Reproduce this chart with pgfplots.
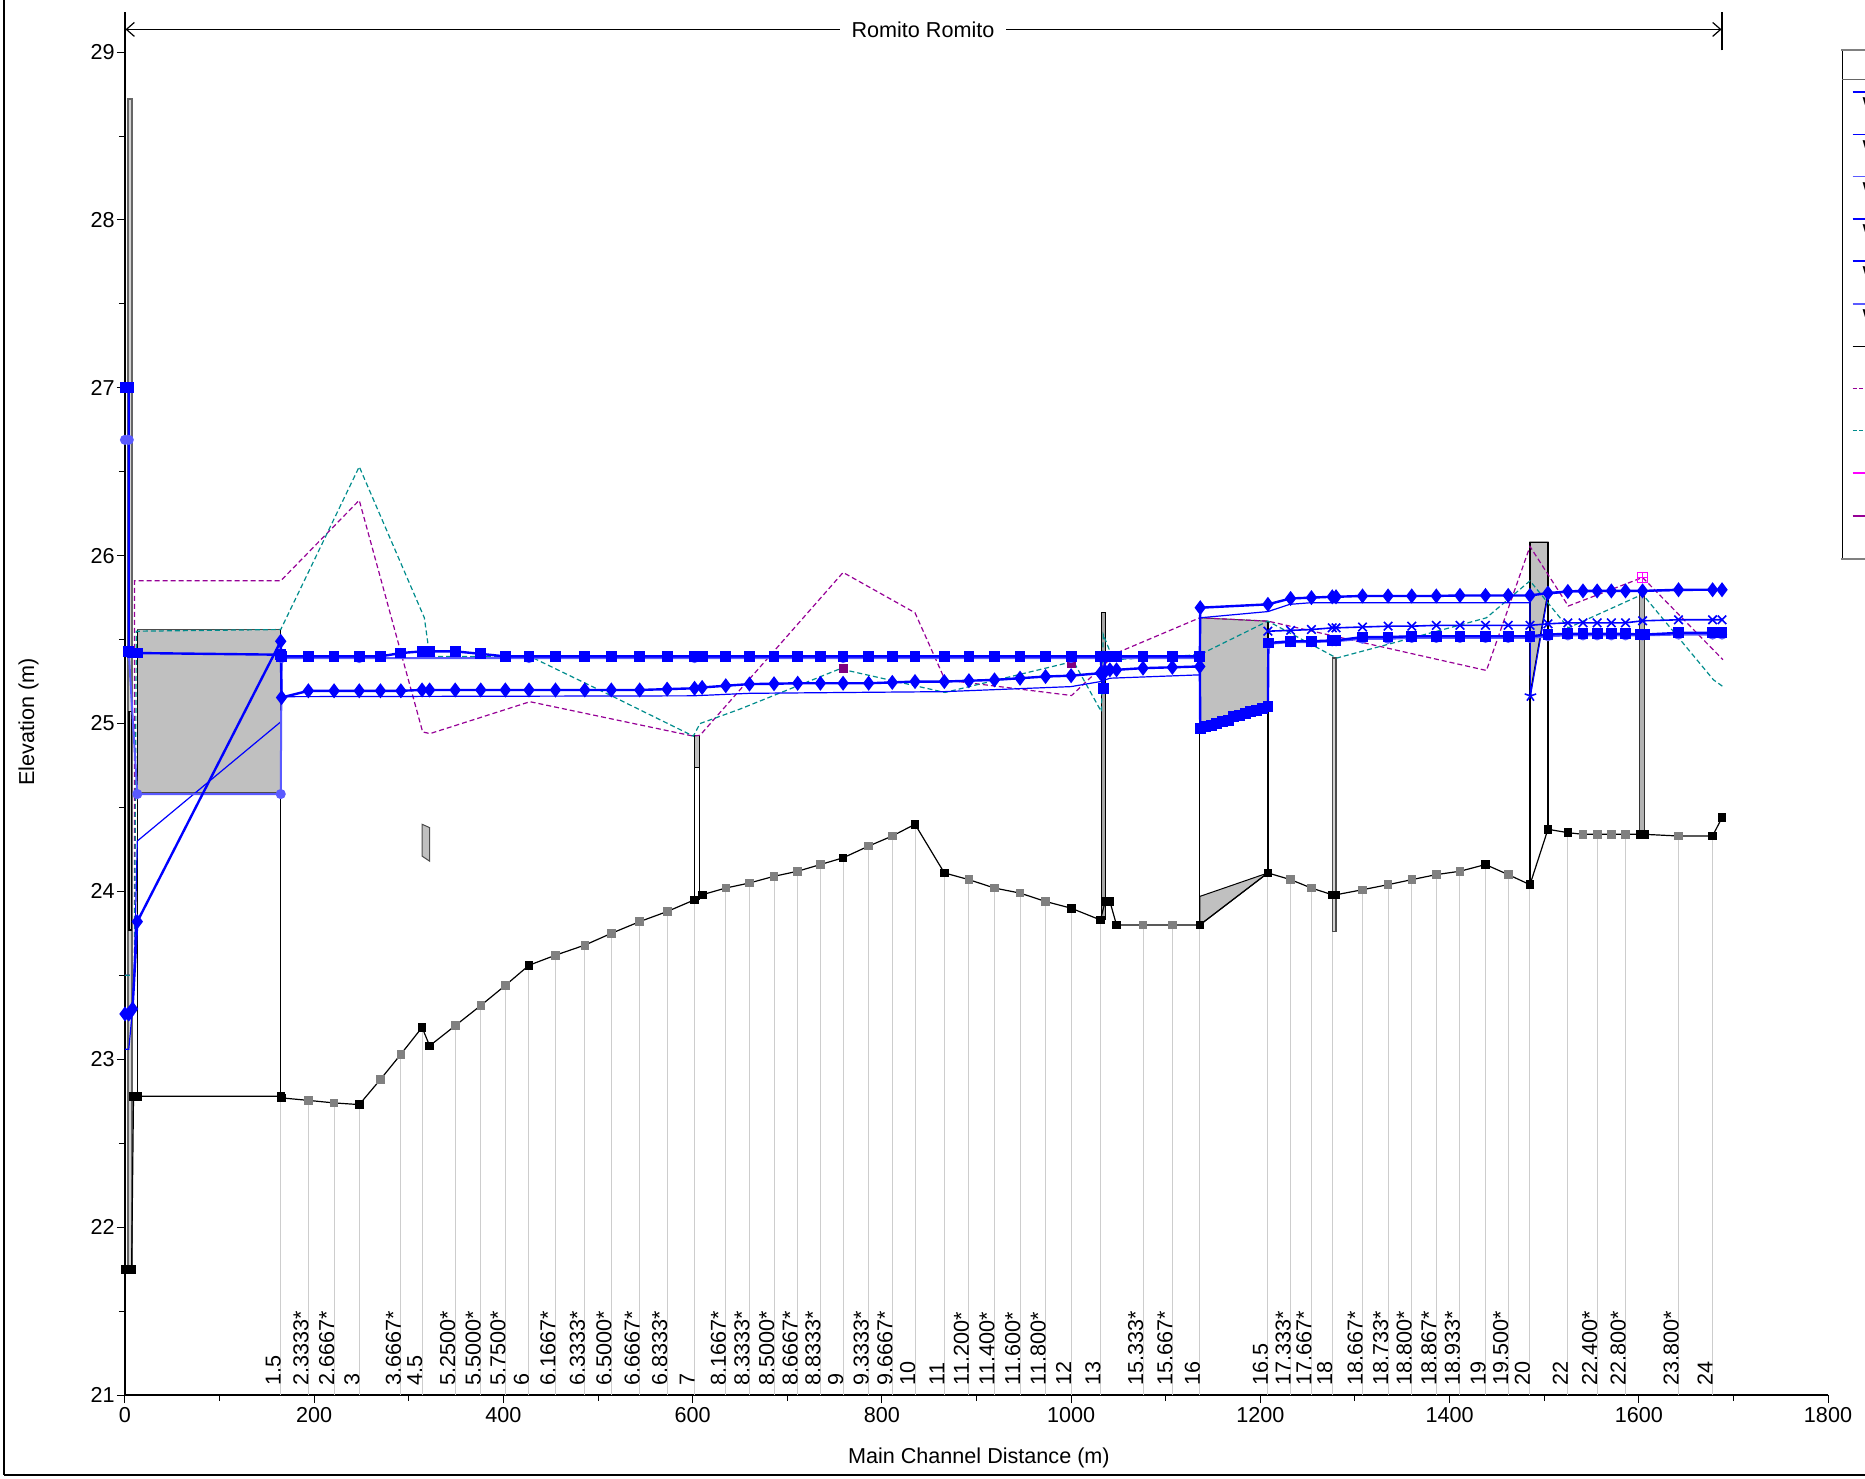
\documentclass[border=0pt]{standalone}
\usepackage{fontspec}
\setmainfont{Liberation Sans}
\usepackage{pgfplots}
\usepackage{pgfplotstable}
\pgfplotsset{compat=1.18}
\usetikzlibrary{arrows.meta}
\definecolor{wsblue}{RGB}{0,0,255}
\definecolor{wslight}{RGB}{90,90,255}
\definecolor{egpurple}{RGB}{150,0,150}
\definecolor{rteal}{RGB}{0,140,140}
\definecolor{mag}{RGB}{255,0,255}
\definecolor{structgray}{RGB}{192,192,192}
\definecolor{combgray}{RGB}{205,205,205}
\definecolor{gndgray}{RGB}{128,128,128}
\newcommand{\fs}{\fontsize{10.8}{13}\selectfont}

\pgfplotstableread{
x y c
0 21.75 b
4 21.75 b
7 21.75 b
9 22.78 b
13 22.78 b
164.6 22.78 b
165.5 22.77 b
193.8 22.755 g
221 22.74 g
247.6 22.73 b
270 22.88 g
291.6 23.03 g
314 23.19 b
322 23.08 b
349 23.20 g
376 23.32 g
402 23.44 g
427 23.56 b
455 23.62 g
486 23.68 g
514 23.75 g
544 23.82 g
573 23.88 g
602 23.95 b
610 23.98 b
635 24.02 g
660 24.05 g
686 24.09 g
711 24.12 g
735 24.16 g
759 24.20 b
786 24.27 g
811 24.33 g
835 24.40 b
866 24.11 b
892 24.07 g
919 24.02 g
946 23.99 g
973 23.94 g
1000 23.90 b
1031 23.83 b
1036 23.94 b
1041 23.94 b
1048 23.80 b
1076 23.80 g
1107 23.80 g
1136 23.80 b
1208 24.11 b
1232 24.07 g
1254 24.02 g
1276 23.98 b
1280 23.98 b
1308 24.01 g
1335 24.04 g
1360 24.07 g
1386 24.10 g
1411 24.12 g
1438 24.16 b
1462 24.10 g
1485 24.04 b
1504 24.37 b
1525 24.35 b
1541 24.34 g
1556 24.34 g
1571 24.34 g
1586 24.34 g
1602 24.34 b
1606 24.34 b
1642 24.33 g
1678 24.33 b
1688 24.44 b
}\gnd

\pgfplotstableread{
x y lab
164.6 22.78 1.5
193.8 22.755 2.3333*
221 22.74 2.6667*
247.6 22.73 3
291.6 23.03 3.6667*
314 23.19 4.5
349 23.20 5.2500*
376 23.32 5.5000*
402 23.44 5.7500*
427 23.56 6
455 23.62 6.1667*
486 23.68 6.3333*
514 23.75 6.5000*
544 23.82 6.6667*
573 23.88 6.8333*
602 23.95 7
635 24.02 8.1667*
660 24.05 8.3333*
686 24.09 8.5000*
711 24.12 8.6667*
735 24.16 8.8333*
759 24.20 9
786 24.27 9.3333*
811 24.33 9.6667*
835 24.40 10
866 24.11 11
892 24.07 11.200*
919 24.02 11.400*
946 23.99 11.600*
973 23.94 11.800*
1000 23.90 12
1031 23.83 13
1076 23.80 15.333*
1107 23.80 15.667*
1136 23.80 16
1208 24.11 16.5
1232 24.07 17.333*
1254 24.02 17.667*
1276 23.98 18
1308 24.01 18.667*
1335 24.04 18.733*
1360 24.07 18.800*
1386 24.10 18.867*
1411 24.12 18.933*
1438 24.16 19
1462 24.10 19.500*
1485 24.04 20
1525 24.35 22
1556 24.34 22.400*
1586 24.34 22.800*
1642 24.33 23.800*
1678 24.33 24
}\comb

\pgfplotstableread{
x y
0 27.00
4 27.00
4 25.43
8 25.42
13 25.42
164.6 25.41
165.5 25.40
193.8 25.40
221 25.40
247.6 25.40
270 25.40
291.6 25.42
314 25.43
322 25.43
349 25.43
376 25.415
402 25.40
427 25.40
455 25.40
486 25.40
514 25.40
544 25.40
573 25.40
602 25.40
610 25.40
635 25.40
660 25.40
686 25.40
711 25.40
735 25.40
759 25.40
786 25.40
811 25.40
835 25.40
866 25.40
892 25.40
919 25.40
946 25.40
973 25.40
1000 25.40
1031 25.40
1034 25.21
1036 25.40
1041 25.40
1048 25.40
1076 25.40
1107 25.40
1136 25.40
1136.5 24.97
1142 24.98
1148 24.99
1154 25.00
1160 25.01
1166 25.02
1172 25.04
1178 25.05
1184 25.06
1190 25.07
1196 25.08
1202 25.09
1208 25.10
1208.5 25.48
1232 25.49
1254 25.49
1276 25.495
1280 25.495
1308 25.515
1335 25.515
1360 25.52
1386 25.52
1411 25.52
1438 25.52
1462 25.52
1485 25.52
1504 25.53
1525 25.535
1541 25.535
1556 25.535
1571 25.535
1586 25.535
1602 25.53
1606 25.53
1642 25.54
1678 25.54
1688 25.54
}\wssq

\pgfplotstableread{
x y
0 23.27
4 23.27
8 23.30
13 23.82
164.6 25.49
165.5 25.155
193.8 25.195
221 25.195
247.6 25.195
270 25.195
291.6 25.195
314 25.20
322 25.20
349 25.20
376 25.20
402 25.20
427 25.20
455 25.20
486 25.20
514 25.20
544 25.20
573 25.205
602 25.21
610 25.215
635 25.225
660 25.235
686 25.237
711 25.24
735 25.24
759 25.24
786 25.24
811 25.245
835 25.25
866 25.25
892 25.255
919 25.26
946 25.27
973 25.28
1000 25.285
1031 25.30
1036 25.31
1041 25.32
1048 25.32
1076 25.33
1107 25.335
1136 25.34
1136.5 25.69
1208 25.71
1232 25.745
1254 25.75
1276 25.755
1280 25.755
1308 25.76
1335 25.76
1360 25.76
1386 25.76
1411 25.763
1438 25.763
1462 25.763
1485 25.763
1504 25.777
1525 25.787
1541 25.79
1556 25.79
1571 25.79
1586 25.79
1604 25.79
1642 25.797
1678 25.797
1688 25.797
}\wsdia

\pgfplotstableread{
x y
0 26.69
4 26.69
4 25.42
13 24.58
164.6 24.58
165.5 25.39
247.6 25.39
427 25.39
602 25.39
759 25.39
1000 25.39
1136 25.39
1137 nan
1208.5 25.475
1232 25.485
1254 25.485
1276 25.49
1280 25.49
1308 25.505
1335 25.505
1360 25.51
1386 25.51
1411 25.51
1438 25.51
1462 25.51
1485 25.51
1504 25.52
1525 25.525
1541 25.525
1556 25.525
1571 25.525
1586 25.525
1604 25.525
1642 25.53
1678 25.53
1688 25.53
}\wscirc

\pgfplotstableread{
x y
1208 25.55
1232 25.555
1254 25.56
1276 25.57
1280 25.57
1308 25.575
1335 25.58
1360 25.58
1386 25.585
1411 25.585
1438 25.585
1462 25.585
1485 25.585
1504 25.594
1525 25.60
1541 25.60
1556 25.60
1571 25.60
1586 25.60
1604 25.612
1642 25.618
1678 25.618
1688 25.618
}\wsx

\pgfplotstableread{
x y
0 23.06
4 23.06
8 23.30
10.3 23.64
13 24.30
164.6 25.01
165.5 25.16
600 25.165
660 25.18
866 25.19
1000 25.22
1031 25.25
1041 25.27
1136 25.29
1136.5 25.63
1208 25.667
1231 25.71
1254 25.72
1485 25.72
1485.5 25.165
1504 25.77
1525 25.785
1688 25.795
}\wsstar

\pgfplotstableread{
x y
0 23.50
10 23.50
10 25.85
164.6 25.85
247.6 26.33
314.6 24.95
322.4 24.94
428 25.13
600.7 24.925
607.8 24.93
759 25.90
835 25.66
866.7 25.26
1000.5 25.167
1048 25.42
1136 25.63
1208 25.61
1439 25.316
1485 26.055
1525.5 25.70
1604 25.87
1689 25.38
}\egl

\pgfplotstableread{
x y
0 23.50
10 23.50
12 25.55
164.6 25.56
247.6 26.53
316.4 25.63
320.6 25.46
325.9 25.40
428 25.40
516 25.16
600.7 24.925
607.8 25.00
650 25.086
755.7 25.326
866.7 25.185
1002.5 25.37
1032 25.07
1034 25.53
1044.6 25.38
1136 25.41
1208 25.61
1280.7 25.39
1400 25.57
1439 25.63
1485 25.85
1525.5 25.57
1604 25.77
1679 25.26
1689 25.22
}\tealline

\begin{document}
\begin{tikzpicture}
\begin{axis}[
  at={(0,0)}, anchor=south west,
  width=851.5pt, height=691.6pt, scale only axis,
  xmin=0, xmax=1800, ymin=21, ymax=29.24,
  axis lines*=left, axis line style={-, line width=0.7pt},
  xtick={0,200,...,1800}, ytick={21,22,...,29},
  minor x tick num=1, minor y tick num=1,
  tick align=outside, major tick length=4pt, minor tick length=3pt,
  tick style={black, line width=0.5pt},
  ticklabel style={font=\fs},
  xticklabel style={inner ysep=2pt},
  yticklabel style={inner xsep=1pt},
  /pgf/number format/assume math mode=true,
  /pgf/number format/1000 sep={},
  xlabel={Main Channel Distance (m)}, ylabel={Elevation (m)},
  label style={font=\fs},
  xlabel style={at={(axis description cs:0.5014,-0.0455)}, anchor=center},
  ylabel style={at={(axis description cs:-0.0566,0.4867)}, anchor=center},
  unbounded coords=jump,
]
% gray station lines
\addplot[ycomb, draw=combgray, line width=0.5pt, mark=none] table[x=x,y=y] \comb;
% station labels
\addplot[draw=none, mark=none, nodes near coords, point meta=explicit symbolic,
  every node near coord/.append style={rotate=90, anchor=base west, inner sep=0.5pt, font=\fs, text=black}]
  table[x=x, y expr=21.05, meta=lab] \comb;

% structures
\addplot[fill=structgray!70, draw=gray!80!black, line width=0.8pt] coordinates {(3,21.75) (7.5,21.75) (7.5,28.72) (3,28.72)} -- cycle;
\addplot[draw=black, line width=0.7pt] coordinates {(4.2,23.77) (6.8,23.77) (6.8,25.07) (4.2,25.07)} -- cycle;
\addplot[fill=structgray, draw=gray!60!black, line width=0.5pt] coordinates {(13,24.59) (164.6,24.59) (164.6,25.56) (13,25.56)} -- cycle;
\addplot[black, line width=0.7pt] coordinates {(13,22.78) (13,25.56)};
\addplot[black, line width=0.7pt] coordinates {(164.6,22.78) (164.6,25.56)};
\addplot[fill=structgray, draw=black!70, line width=0.5pt] coordinates {(314,24.21) (322,24.18) (322,24.38) (314,24.40)} -- cycle;
\addplot[fill=white, draw=black, line width=0.5pt] coordinates {(602,23.95) (607,23.95) (607,24.93) (602,24.93)} -- cycle;
\addplot[fill=structgray, draw=black, line width=0.5pt] coordinates {(602,24.74) (607,24.74) (607,24.93) (602,24.93)} -- cycle;
\addplot[fill=gray!70, draw=black, line width=0.5pt] coordinates {(1032,23.83) (1036,23.83) (1036,25.66) (1032,25.66)} -- cycle;
\addplot[fill=structgray, draw=gray!50!black, line width=0.5pt] coordinates {(1136,24.97) (1208,25.10) (1208,25.61) (1136,25.63)} -- cycle;
\addplot[fill=structgray, draw=black, line width=0.5pt] coordinates {(1136,23.80) (1208,24.11) (1136,23.97)} -- cycle;
\addplot[black, line width=0.7pt] coordinates {(1136,23.80) (1136,25.63)};
\addplot[black, line width=0.7pt] coordinates {(1208,24.11) (1208,25.61)};
\addplot[fill=structgray!70, draw=black!70, line width=0.6pt] coordinates {(1276,23.76) (1280,23.76) (1280,25.39) (1276,25.39)} -- cycle;
\addplot[fill=structgray, draw=black, line width=0.7pt] coordinates {(1485,25.165) (1504,25.78) (1504,26.08) (1485,26.08)} -- cycle;
\addplot[black, line width=0.7pt] coordinates {(1485,24.04) (1485,26.08)};
\addplot[black, line width=0.7pt] coordinates {(1504,24.37) (1504,26.08)};
\addplot[fill=gray!60, draw=black!80, line width=0.6pt] coordinates {(1601,24.34) (1606,24.34) (1606,25.79) (1601,25.79)} -- cycle;

% ground
\addplot[black, line width=0.6pt, mark=none] table[x=x,y=y] \gnd;
\addplot[only marks, scatter, scatter src=explicit symbolic,
  scatter/classes={b={mark=square*, fill=black, draw=black}, g={mark=square*, fill=gndgray, draw=gndgray}},
  mark size=1.9pt] table[x=x,y=y,meta=c] \gnd;

% dashed lines
\addplot[egpurple, line width=0.6pt, dash pattern=on 2.5pt off 1.5pt, mark=none] table[x=x,y=y] \egl;
\addplot[rteal, line width=0.6pt, dash pattern=on 2.5pt off 1.5pt, mark=none] table[x=x,y=y] \tealline;
\addplot[only marks, mark=square*, mark size=2pt, fill=egpurple!85!black, draw=egpurple!85!black] coordinates {(759,25.326) (1000,25.36)};

% water surfaces
\addplot[wsblue, line width=0.6pt, mark=star, mark indices={20}, mark size=3pt, mark options={line width=0.8pt}] table[x=x,y=y] \wsstar;
\addplot[wslight, line width=1pt, mark=*, mark size=2pt, mark options={fill=wslight, draw=wslight}] table[x=x,y=y] \wscirc;
\addplot[wsblue, line width=0.8pt, mark=x, mark size=3pt, mark options={line width=0.8pt}] table[x=x,y=y] \wsx;
\addplot[wsblue, line width=1.2pt, mark=square*, mark size=2.1pt, mark options={fill=wsblue, draw=wsblue}] table[x=x,y=y] \wssq;
\addplot[wsblue, line width=1.2pt, mark=diamond*, mark size=2.8pt, mark options={fill=wsblue, draw=wsblue}] table[x=x,y=y] \wsdia;

\addplot[only marks, mark=square, mark size=2.6pt, draw=mag, line width=0.6pt] coordinates {(1604,25.87)};
\addplot[only marks, mark=+, mark size=2.6pt, draw=mag, line width=0.6pt] coordinates {(1604,25.87)};

% river reach line
\draw[line width=0.6pt, {Straight Barb[length=4pt,width=7pt]}-{Straight Barb[length=4pt,width=7pt]}] (axis cs:0.5,29.135) -- (axis cs:1687.5,29.135);
\node[fill=white, inner xsep=6pt, inner ysep=1pt, font=\fs] at (axis cs:843.4,29.135) {Romito Romito};
\draw[line width=0.6pt] (axis cs:1688,29.01) -- (axis cs:1688,29.24);
\end{axis}

% outer frame (cut off)
\draw[line width=1pt] (-60.5pt,-39.9pt) -- (-60.5pt,720pt);
\draw[line width=1pt] (-60.5pt,-39.9pt) -- (900pt,-39.9pt);

% legend (cut off at the right)
\draw[black, line width=0.6pt] (858.7pt,418.1pt) -- (858.7pt,672.6pt);
\draw[gray, line width=1.2pt] (858.1pt,672.6pt) -- (900pt,672.6pt);
\draw[gray, line width=1.2pt] (858.1pt,418.1pt) -- (900pt,418.1pt);
\draw[black!60, line width=0.5pt] (858.7pt,657.8pt) -- (900pt,657.8pt);
\foreach \yy/\cc in {651.6/wsblue, 630.2/wsblue, 609.2/wslight, 588.0/wsblue, 567.0/wsblue, 545.6/wslight, 524.2/black, 460.9/mag, 439.5/egpurple} {
  \draw[\cc, line width=0.8pt] (863.8pt,\yy pt) -- (900pt,\yy pt);
}
\draw[egpurple, line width=0.8pt, dash pattern=on 2pt off 1.2pt] (863.8pt,503.3pt) -- (900pt,503.3pt);
\draw[rteal, line width=0.8pt, dash pattern=on 2pt off 1.2pt] (863.8pt,482.3pt) -- (900pt,482.3pt);
\foreach \yy in {641.3, 619.9, 598.9, 577.7, 556.7, 535.3} {
  \node[anchor=base west, inner sep=0pt, font=\fs] at (868.6pt,\yy pt) {WS};
}

\pgfresetboundingbox
\useasboundingbox (-62.5pt,-42pt) rectangle (870pt,697.5pt);
\end{tikzpicture}
\end{document}
